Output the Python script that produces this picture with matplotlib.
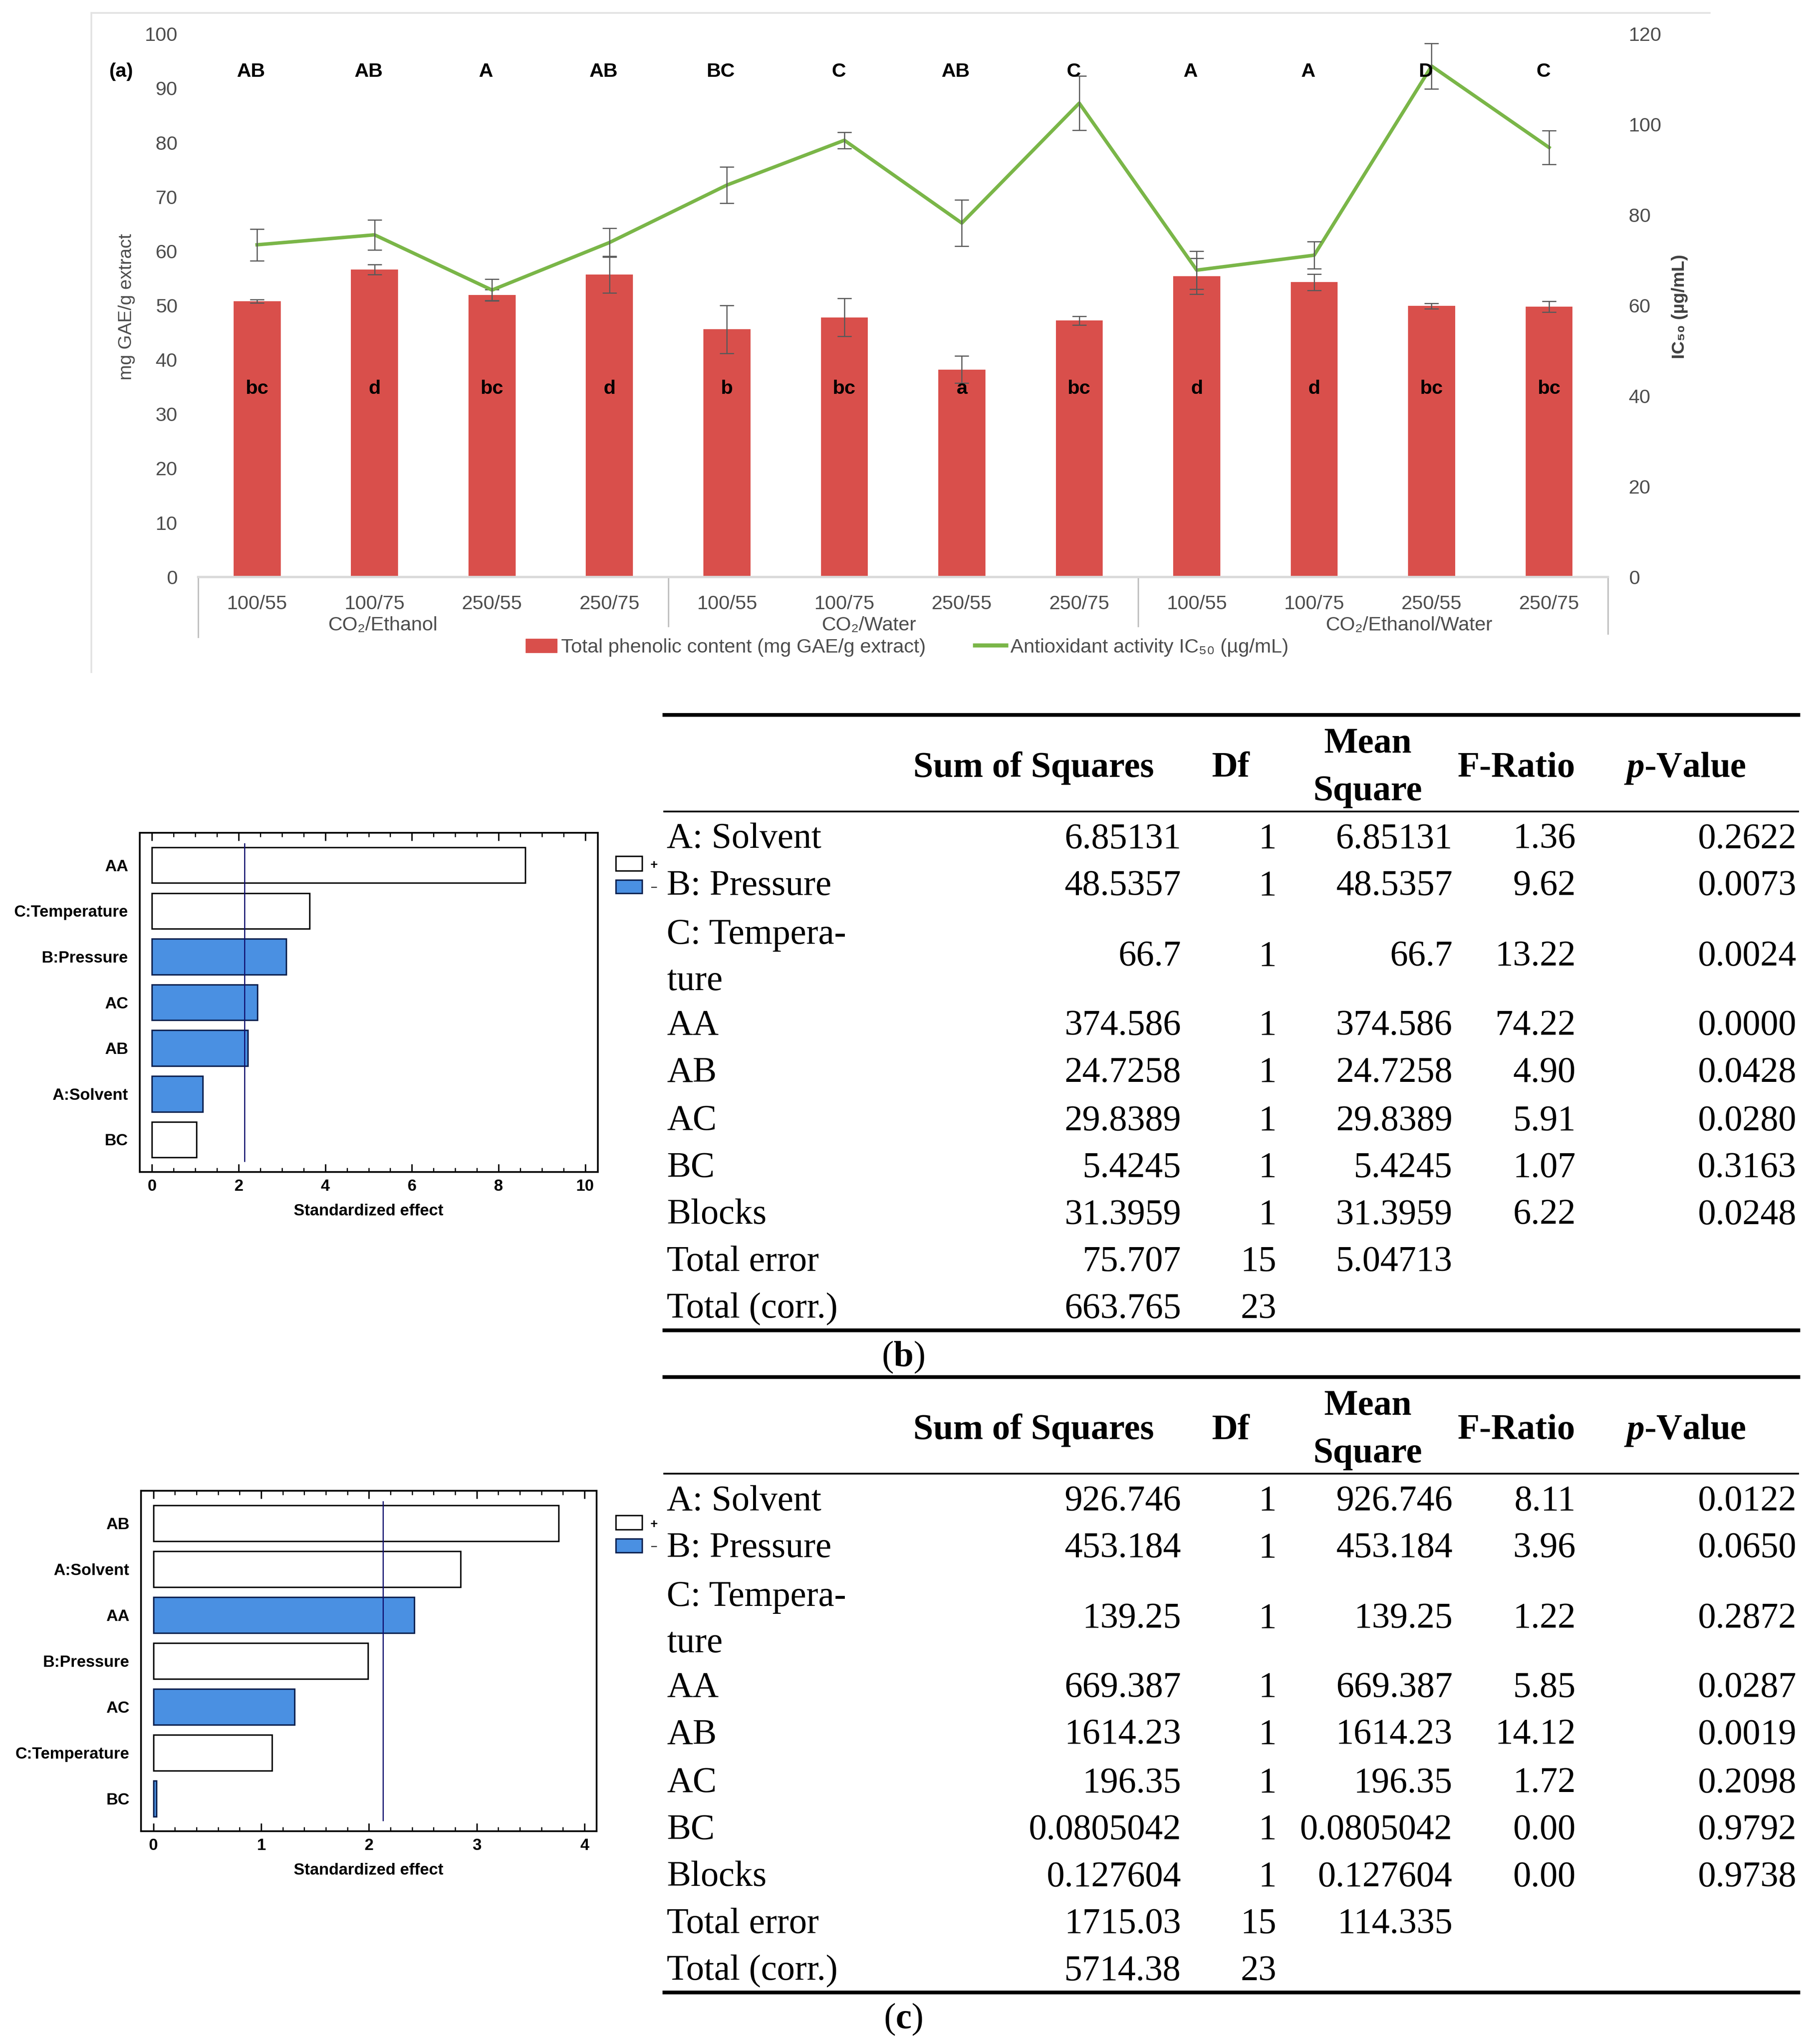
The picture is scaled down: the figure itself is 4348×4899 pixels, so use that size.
import matplotlib
matplotlib.use('Agg')
import matplotlib.pyplot as plt
import matplotlib.transforms as mtransforms
from matplotlib.lines import Line2D
from matplotlib.patches import Patch, Rectangle
import numpy as np

# ---- data, panel (a)
categories = ['100/55', '100/75', '250/55', '250/75'] * 3
groups = ['CO₂/Ethanol', 'CO₂/Water', 'CO₂/Ethanol/Water']
tpc = [50.8, 56.6, 51.9, 55.7, 45.6, 47.8, 38.2, 47.2, 55.4, 54.3, 49.9, 49.8]
tpc_err = [0.3, 0.9, 1.0, 3.4, 4.4, 3.5, 2.5, 0.8, 3.3, 1.5, 0.5, 1.0]
ic50 = [73.4, 75.6, 63.4, 73.9, 86.6, 96.5, 78.2, 104.7, 67.8, 71.1, 112.9, 94.9]
ic50_err = [3.5, 3.3, 2.4, 3.2, 4.0, 1.8, 5.1, 6.0, 4.2, 3.0, 5.0, 3.7]
upper_letters = ['AB', 'AB', 'A', 'AB', 'BC', 'C', 'AB', 'C', 'A', 'A', 'D', 'C']
lower_letters = ['bc', 'd', 'bc', 'd', 'b', 'bc', 'a', 'bc', 'd', 'd', 'bc', 'bc']

# ---- data, pareto charts
b_terms = ['AA', 'C:Temperature', 'B:Pressure', 'AC', 'AB', 'A:Solvent', 'BC']
b_effects = [8.62, 3.64, 3.10, 2.43, 2.21, 1.17, 1.03]
b_signs = ['+', '+', '-', '-', '-', '-', '+']
c_terms = ['AB', 'A:Solvent', 'AA', 'B:Pressure', 'AC', 'C:Temperature', 'BC']
c_effects = [3.76, 2.85, 2.42, 1.99, 1.31, 1.10, 0.03]
c_signs = ['+', '+', '-', '+', '-', '+', '-']
critical = 2.13

# ---- data, ANOVA tables
anova_terms = ['A: Solvent', 'B: Pressure', 'C: Tempera-\nture', 'AA', 'AB', 'AC', 'BC',
               'Blocks', 'Total error', 'Total (corr.)']
anova_df = ['1', '1', '1', '1', '1', '1', '1', '1', '15', '23']
ss_b = ['6.85131', '48.5357', '66.7', '374.586', '24.7258', '29.8389', '5.4245', '31.3959', '75.707', '663.765']
ms_b = ['6.85131', '48.5357', '66.7', '374.586', '24.7258', '29.8389', '5.4245', '31.3959', '5.04713', '']
f_b = ['1.36', '9.62', '13.22', '74.22', '4.90', '5.91', '1.07', '6.22', '', '']
p_b = ['0.2622', '0.0073', '0.0024', '0.0000', '0.0428', '0.0280', '0.3163', '0.0248', '', '']
ss_c = ['926.746', '453.184', '139.25', '669.387', '1614.23', '196.35', '0.0805042', '0.127604', '1715.03', '5714.38']
ms_c = ['926.746', '453.184', '139.25', '669.387', '1614.23', '196.35', '0.0805042', '0.127604', '114.335', '']
f_c = ['8.11', '3.96', '1.22', '5.85', '14.12', '1.72', '0.00', '0.00', '', '']
p_c = ['0.0122', '0.0650', '0.2872', '0.0287', '0.0019', '0.2098', '0.9792', '0.9738', '', '']

RED = '#d94f4b'
GREEN = '#7ab648'
BLUE = '#4a90e2'
NAVY = '#10106e'
GRAY = '#4d4d4d'
SANS = ['Liberation Sans', 'DejaVu Sans']
SERIF = ['Liberation Serif', 'DejaVu Serif']

plt.rcParams['mathtext.fontset'] = 'custom'
plt.rcParams['mathtext.rm'] = 'Liberation Serif'
plt.rcParams['mathtext.it'] = 'Liberation Serif:italic'
plt.rcParams['mathtext.bf'] = 'Liberation Serif:bold'
plt.rcParams['mathtext.bfit'] = 'Liberation Serif:italic:bold'

# layout measured on a 1390 x 1566 grid
W, H = 1390.0, 1566.0


def fx(x):
    return x / W


def fy(y):
    return 1 - y / H


fig = plt.figure(figsize=(43.48, 48.99), dpi=100, facecolor='w')

# faint frame of the pasted chart
fig.add_artist(Line2D([fx(70), fx(1310)], [fy(10), fy(10)], color='#e3e3e3', lw=3))
fig.add_artist(Line2D([fx(70), fx(70)], [fy(10), fy(515)], color='#e3e3e3', lw=3))

# ================= panel (a)
ax = fig.add_axes([fx(152), fy(442), (1232 - 152) / W, (442 - 26) / H])
x = np.arange(len(categories))
ax.bar(x, tpc, width=0.4, color=RED, zorder=2)
ax.errorbar(x, tpc, yerr=tpc_err, fmt='none', ecolor='#595959', elinewidth=2,
            capsize=12, capthick=2, zorder=3)
ax.set_xlim(-0.5, len(categories) - 0.5)
ax.set_ylim(0, 100)
ax.set_yticks(range(0, 101, 10))
ax.set_xticks([])
for s in ['top', 'right', 'left']:
    ax.spines[s].set_visible(False)
ax.spines['bottom'].set_color('#d9d9d9')
ax.spines['bottom'].set_linewidth(4)
ax.tick_params(axis='y', length=0, pad=36, labelsize=34, labelcolor=GRAY)
for lab in ax.get_yticklabels():
    lab.set_fontfamily(SANS)

ax2 = ax.twinx()
ax2.set_ylim(0, 120)
ax2.set_yticks(range(0, 121, 20))
ax2.plot(x, ic50, color=GREEN, lw=6, zorder=3)
ax2.errorbar(x, ic50, yerr=ic50_err, fmt='none', ecolor='#595959', elinewidth=2,
             capsize=12, capthick=2, zorder=4)
for s in ax2.spines.values():
    s.set_visible(False)
ax2.tick_params(axis='y', length=0, pad=36, labelsize=34, labelcolor=GRAY)
for lab in ax2.get_yticklabels():
    lab.set_fontfamily(SANS)

blend = mtransforms.blended_transform_factory(ax.transData, ax.transAxes)
for i, c in enumerate(categories):
    ax.text(i, -0.05, c, transform=blend, ha='center', va='center', fontsize=34,
            family=SANS, color=GRAY)
for gx, g in zip([1.07, 5.21, 9.81], groups):
    ax.text(gx, -0.089, g, transform=blend, ha='center', va='center', fontsize=34,
            family=SANS, color=GRAY)
for b, low in zip([-0.5, 3.5, 7.5, 11.5], [-0.111, -0.091, -0.091, -0.105]):
    ax.plot([b, b], [0.0, low], transform=blend, clip_on=False, color='#bfbfbf', lw=2.5)

for i in range(len(categories)):
    ax2.text(i - 0.05, 93, upper_letters[i], transform=ax.transData, ha='center',
             va='center', fontsize=34, family=SANS, weight='bold', color='black', zorder=6)
    ax2.text(i, 34.6, lower_letters[i], transform=ax.transData, ha='center',
             va='center', fontsize=34, family=SANS, weight='bold', color='black', zorder=6)

fig.text(fx(93), fy(55), '(a)', ha='center', va='center', fontsize=34,
         family=SANS, weight='bold')
fig.text(fx(97), fy(235), 'mg GAE/g extract', rotation=90, ha='center', va='center',
         fontsize=32, family=SANS, color=GRAY)
fig.text(fx(1287), fy(235), 'IC₅₀ (µg/mL)', rotation=90, ha='center', va='center',
         fontsize=31, family=SANS, weight='bold', color='#404040')

fig.legend(handles=[Patch(color=RED), Line2D([0], [0], color=GREEN, lw=7)],
           labels=['Total phenolic content (mg GAE/g extract)', 'Antioxidant activity IC₅₀ (µg/mL)'],
           loc='center', bbox_to_anchor=(fx(695), fy(496)), ncol=2, frameon=False,
           prop={'family': SANS, 'size': 34}, labelcolor=GRAY,
           handlelength=1.6, handletextpad=0.2, columnspacing=2.5)


# ================= pareto charts
def pareto(rect, terms, effects, signs, xlim, major, minor, legend_top):
    axp = fig.add_axes(rect)
    pos = np.arange(len(terms))
    fills = [BLUE if s == '-' else 'white' for s in signs]
    edges = ['#0b1f4d' if s == '-' else 'black' for s in signs]
    axp.barh(pos, effects, height=0.78, color=fills, edgecolor=edges, linewidth=2.5, zorder=2)
    axp.plot([critical, critical], [-0.47, len(terms) - 0.53], color=NAVY, lw=2, zorder=3)
    axp.set_ylim(len(terms) - 0.29, -0.71)
    axp.set_xlim(*xlim)
    axp.set_yticks(pos)
    axp.set_yticklabels(terms)
    axp.set_xticks(major)
    axp.set_xticks(minor, minor=True)
    axp.tick_params(axis='y', length=0, pad=20, labelsize=28)
    axp.tick_params(axis='x', which='major', direction='in', top=True, length=14,
                    width=2.5, pad=12, labelsize=28)
    axp.tick_params(axis='x', which='minor', direction='in', top=True, length=7, width=2)
    for lab in axp.get_xticklabels() + axp.get_yticklabels():
        lab.set_fontfamily(SANS)
        lab.set_fontweight('bold')
    for s in axp.spines.values():
        s.set_linewidth(3)
    cx = rect[0] + rect[2] / 2
    fig.text(cx, rect[1] - 30 / H, 'Standardized effect', ha='center', va='center',
             fontsize=28, family=SANS, weight='bold')
    # +/- key
    fig.add_artist(Rectangle((fx(472), fy(legend_top + 11)), 20 / W, 11 / H,
                             transform=fig.transFigure, facecolor='white',
                             edgecolor='black', lw=2.5))
    fig.add_artist(Rectangle((fx(472), fy(legend_top + 28.5)), 20 / W, 10.5 / H,
                             transform=fig.transFigure, facecolor=BLUE,
                             edgecolor='#0b1f4d', lw=2.5))
    fig.text(fx(501), fy(legend_top + 7), '+', ha='center', va='center', fontsize=22,
             family=SANS, weight='bold')
    fig.text(fx(501), fy(legend_top + 24), '–', ha='center', va='center', fontsize=20,
             family=SANS, weight='bold', color='#333333')


pareto([fx(107), fy(898), (458 - 107) / W, (898 - 638) / H], b_terms, b_effects, b_signs,
       (-0.287, 10.29), np.arange(0, 11, 2), np.arange(0, 10.01, 0.5), 656)
pareto([fx(108), fy(1403), (457 - 108) / W, (1403 - 1142) / H], c_terms, c_effects, c_signs,
       (-0.115, 4.11), np.arange(0, 5, 1), np.arange(0, 4.01, 0.2), 1161)


# ================= ANOVA tables
def table(top, ss, ms, f, p, caption):
    kw = dict(family=SERIF, fontsize=62, va='baseline')
    fig.add_artist(Line2D([fx(509), fx(1378)], [fy(top), fy(top)], color='black', lw=6.5))
    fig.add_artist(Line2D([fx(509), fx(1378)], [fy(top + 74), fy(top + 74)], color='black', lw=3))
    fig.add_artist(Line2D([fx(509), fx(1378)], [fy(top + 471.5), fy(top + 471.5)], color='black', lw=6.5))
    fig.text(fx(792), fy(top + 47.5), 'Sum of Squares', ha='center', weight='bold', **kw)
    fig.text(fx(943), fy(top + 47.5), 'Df', ha='center', weight='bold', **kw)
    fig.text(fx(1048), fy(top + 29), 'Mean', ha='center', weight='bold', **kw)
    fig.text(fx(1048), fy(top + 65.5), 'Square', ha='center', weight='bold', **kw)
    fig.text(fx(1162), fy(top + 47.5), 'F-Ratio', ha='center', weight='bold', **kw)
    fig.text(fx(1291), fy(top + 47.5), r'$\mathbfit{p}$-Value', ha='center', weight='bold', **kw)
    rows = [102, 138, 192, 245, 281, 318, 354, 390, 426, 462]
    for i, term in enumerate(anova_terms):
        y = top + rows[i]
        if '\n' in term:
            first, second = term.split('\n')
            fig.text(fx(511), fy(top + 175.5), first, ha='left', **kw)
            fig.text(fx(511), fy(top + 211), second, ha='left', **kw)
        else:
            fig.text(fx(511), fy(y), term, ha='left', **kw)
        fig.text(fx(905), fy(y), ss[i], ha='right', **kw)
        fig.text(fx(978), fy(y), anova_df[i], ha='right', **kw)
        fig.text(fx(1113), fy(y), ms[i], ha='right', **kw)
        fig.text(fx(1207.5), fy(y), f[i], ha='right', **kw)
        fig.text(fx(1376.5), fy(y), p[i], ha='right', **kw)
    fig.text(fx(692), fy(top + 499), '($\\mathbf{' + caption + '}$)', ha='center', **kw)


table(547.7, ss_b, ms_b, f_b, p_b, 'b')
table(1055, ss_c, ms_c, f_c, p_c, 'c')

fig.savefig('out.png', dpi=100, facecolor='w')
